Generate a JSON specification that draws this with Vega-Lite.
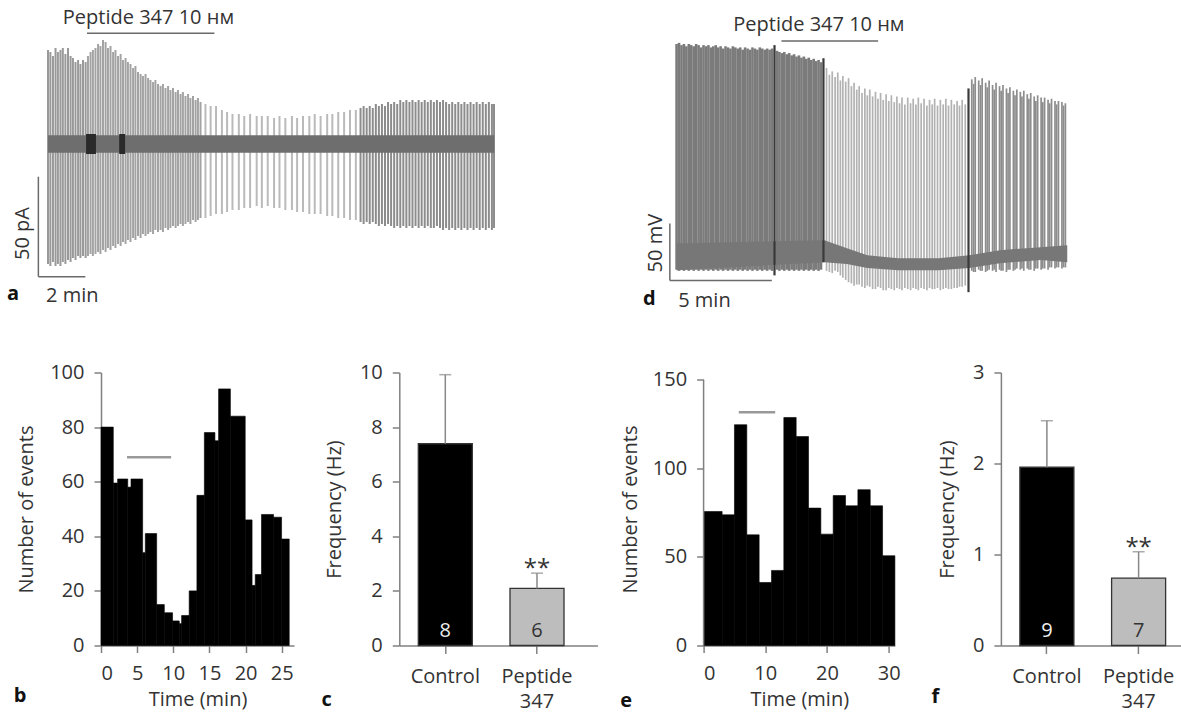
{
"$schema": "https://vega.github.io/schema/vega-lite/v6.json",
"background": "white",
"padding": {"left": 6, "top": 8, "right": 0, "bottom": 0},
"spacing": 46.5,
"columns": 1,
"align": "none",
"config": {
 "font": "Open Sans",
 "view": {"stroke": null},
 "axis": {"domainColor": "#808080", "domainWidth": 1.5, "tickColor": "#808080", "tickWidth": 1.5, "tickSize": 7, "labelFontSize": 20, "labelColor": "#333", "labelPadding": 10, "labelOverlap": false, "titleFontSize": 20, "titleFontWeight": "normal", "titleColor": "#333", "grid": false, "labelFont": "Open Sans", "titleFont": "Open Sans"},
 "title": {"fontSize": 20, "fontWeight": "bold", "color": "#111", "font": "Open Sans"}
},
"concat": [
{
 "hconcat": [
 {
  "width": 393.5, "height": 244,
  "layer": [
   {
    "data": {"values": [
{"t":0,"hi":47,"lo":-60,"ph":"baseline"},{"t":0.1,"hi":46,"lo":-61,"ph":"baseline"},{"t":0.21,"hi":44,"lo":-59,"ph":"baseline"},{"t":0.32,"hi":48,"lo":-61,"ph":"baseline"},{"t":0.42,"hi":46,"lo":-60,"ph":"baseline"},{"t":0.53,"hi":47,"lo":-61,"ph":"baseline"},{"t":0.63,"hi":48,"lo":-59,"ph":"baseline"},{"t":0.74,"hi":45,"lo":-60,"ph":"baseline"},{"t":0.85,"hi":48,"lo":-58,"ph":"baseline"},{"t":0.96,"hi":44,"lo":-59,"ph":"baseline"},{"t":1.06,"hi":43,"lo":-57,"ph":"baseline"},{"t":1.17,"hi":41,"lo":-58,"ph":"baseline"},{"t":1.28,"hi":42,"lo":-56,"ph":"baseline"},{"t":1.38,"hi":40,"lo":-57,"ph":"baseline"},{"t":1.49,"hi":42,"lo":-56,"ph":"baseline"},{"t":1.6,"hi":41,"lo":-57,"ph":"baseline"},
{"t":1.7,"hi":44,"lo":-56,"ph":"drug"},{"t":1.81,"hi":46,"lo":-55,"ph":"drug"},{"t":1.91,"hi":47,"lo":-56,"ph":"drug"},{"t":2.02,"hi":48,"lo":-55,"ph":"drug"},{"t":2.13,"hi":50,"lo":-54,"ph":"drug"},{"t":2.23,"hi":49,"lo":-55,"ph":"drug"},{"t":2.34,"hi":52,"lo":-53,"ph":"drug"},{"t":2.45,"hi":51,"lo":-54,"ph":"drug"},{"t":2.55,"hi":48,"lo":-52,"ph":"drug"},{"t":2.66,"hi":49,"lo":-53,"ph":"drug"},{"t":2.77,"hi":46,"lo":-51,"ph":"drug"},{"t":2.87,"hi":47,"lo":-52,"ph":"drug"},{"t":2.98,"hi":44,"lo":-50,"ph":"drug"},{"t":3.09,"hi":45,"lo":-51,"ph":"drug"},{"t":3.19,"hi":42,"lo":-49,"ph":"drug"},{"t":3.3,"hi":43,"lo":-50,"ph":"drug"},{"t":3.4,"hi":41,"lo":-48,"ph":"drug"},{"t":3.51,"hi":40,"lo":-49,"ph":"drug"},{"t":3.62,"hi":38,"lo":-47,"ph":"drug"},{"t":3.72,"hi":39,"lo":-48,"ph":"drug"},{"t":3.83,"hi":36,"lo":-46,"ph":"drug"},{"t":3.94,"hi":35,"lo":-47,"ph":"drug"},{"t":4.04,"hi":34,"lo":-45,"ph":"drug"},{"t":4.15,"hi":35,"lo":-46,"ph":"drug"},{"t":4.26,"hi":33,"lo":-45,"ph":"drug"},{"t":4.36,"hi":32,"lo":-44,"ph":"drug"},{"t":4.47,"hi":31,"lo":-45,"ph":"drug"},{"t":4.57,"hi":32,"lo":-43,"ph":"drug"},{"t":4.68,"hi":30,"lo":-44,"ph":"drug"},{"t":4.79,"hi":29,"lo":-43,"ph":"drug"},{"t":4.89,"hi":30,"lo":-44,"ph":"drug"},{"t":5,"hi":28,"lo":-42,"ph":"drug"},{"t":5.11,"hi":29,"lo":-43,"ph":"drug"},{"t":5.21,"hi":27,"lo":-42,"ph":"drug"},{"t":5.32,"hi":28,"lo":-41,"ph":"drug"},{"t":5.43,"hi":26,"lo":-42,"ph":"drug"},{"t":5.53,"hi":27,"lo":-41,"ph":"drug"},{"t":5.64,"hi":25,"lo":-40,"ph":"drug"},{"t":5.74,"hi":26,"lo":-41,"ph":"drug"},{"t":5.85,"hi":24,"lo":-40,"ph":"drug"},{"t":5.96,"hi":25,"lo":-39,"ph":"drug"},{"t":6.06,"hi":23,"lo":-40,"ph":"drug"},{"t":6.17,"hi":24,"lo":-38,"ph":"drug"},{"t":6.28,"hi":22,"lo":-39,"ph":"drug"},{"t":6.38,"hi":23,"lo":-38,"ph":"drug"},{"t":6.49,"hi":21,"lo":-37,"ph":"drug"},
{"t":6.7,"hi":20,"lo":-37,"ph":"wash"},{"t":6.92,"hi":19,"lo":-36,"ph":"wash"},{"t":7.15,"hi":19,"lo":-35,"ph":"wash"},{"t":7.4,"hi":17,"lo":-35,"ph":"wash"},{"t":7.62,"hi":16,"lo":-34,"ph":"wash"},{"t":7.85,"hi":15,"lo":-33,"ph":"wash"},{"t":8.12,"hi":15,"lo":-33,"ph":"wash"},{"t":8.35,"hi":14,"lo":-32,"ph":"wash"},{"t":8.6,"hi":15,"lo":-32,"ph":"wash"},{"t":8.88,"hi":14,"lo":-31,"ph":"wash"},{"t":9.1,"hi":14,"lo":-32,"ph":"wash"},{"t":9.35,"hi":14,"lo":-31,"ph":"wash"},{"t":9.62,"hi":13,"lo":-32,"ph":"wash"},{"t":9.85,"hi":14,"lo":-32,"ph":"wash"},{"t":10.1,"hi":13,"lo":-33,"ph":"wash"},{"t":10.38,"hi":14,"lo":-33,"ph":"wash"},{"t":10.6,"hi":13,"lo":-34,"ph":"wash"},{"t":10.85,"hi":14,"lo":-34,"ph":"wash"},{"t":11.12,"hi":14,"lo":-35,"ph":"wash"},{"t":11.35,"hi":15,"lo":-35,"ph":"wash"},{"t":11.6,"hi":14,"lo":-35,"ph":"wash"},{"t":11.88,"hi":15,"lo":-36,"ph":"wash"},{"t":12.1,"hi":15,"lo":-36,"ph":"wash"},{"t":12.35,"hi":16,"lo":-37,"ph":"wash"},{"t":12.6,"hi":16,"lo":-37,"ph":"wash"},{"t":12.85,"hi":17,"lo":-38,"ph":"wash"},{"t":13.1,"hi":17,"lo":-38,"ph":"wash"},
{"t":13.3,"hi":18,"lo":-39,"ph":"recovery"},{"t":13.43,"hi":19,"lo":-40,"ph":"recovery"},{"t":13.56,"hi":18,"lo":-39,"ph":"recovery"},{"t":13.69,"hi":19,"lo":-40,"ph":"recovery"},{"t":13.82,"hi":18,"lo":-39,"ph":"recovery"},{"t":13.95,"hi":20,"lo":-40,"ph":"recovery"},{"t":14.08,"hi":19,"lo":-41,"ph":"recovery"},{"t":14.21,"hi":20,"lo":-40,"ph":"recovery"},{"t":14.34,"hi":19,"lo":-41,"ph":"recovery"},{"t":14.47,"hi":21,"lo":-40,"ph":"recovery"},{"t":14.6,"hi":20,"lo":-41,"ph":"recovery"},{"t":14.73,"hi":21,"lo":-42,"ph":"recovery"},{"t":14.86,"hi":20,"lo":-41,"ph":"recovery"},{"t":14.99,"hi":22,"lo":-42,"ph":"recovery"},{"t":15.12,"hi":21,"lo":-41,"ph":"recovery"},{"t":15.25,"hi":22,"lo":-42,"ph":"recovery"},{"t":15.38,"hi":21,"lo":-41,"ph":"recovery"},{"t":15.51,"hi":22,"lo":-42,"ph":"recovery"},{"t":15.64,"hi":21,"lo":-41,"ph":"recovery"},{"t":15.77,"hi":22,"lo":-42,"ph":"recovery"},{"t":15.9,"hi":21,"lo":-41,"ph":"recovery"},{"t":16.03,"hi":22,"lo":-42,"ph":"recovery"},{"t":16.16,"hi":21,"lo":-41,"ph":"recovery"},{"t":16.29,"hi":22,"lo":-42,"ph":"recovery"},{"t":16.42,"hi":21,"lo":-42,"ph":"recovery"},{"t":16.55,"hi":22,"lo":-41,"ph":"recovery"},{"t":16.68,"hi":21,"lo":-42,"ph":"recovery"},{"t":16.81,"hi":22,"lo":-43,"ph":"recovery"},{"t":16.94,"hi":21,"lo":-42,"ph":"recovery"},{"t":17.07,"hi":20,"lo":-43,"ph":"recovery"},{"t":17.2,"hi":21,"lo":-42,"ph":"recovery"},{"t":17.33,"hi":20,"lo":-43,"ph":"recovery"},{"t":17.46,"hi":21,"lo":-42,"ph":"recovery"},{"t":17.59,"hi":20,"lo":-43,"ph":"recovery"},{"t":17.72,"hi":21,"lo":-42,"ph":"recovery"},{"t":17.85,"hi":20,"lo":-43,"ph":"recovery"},{"t":17.98,"hi":21,"lo":-42,"ph":"recovery"},{"t":18.11,"hi":20,"lo":-43,"ph":"recovery"},{"t":18.24,"hi":21,"lo":-42,"ph":"recovery"},{"t":18.37,"hi":20,"lo":-43,"ph":"recovery"},{"t":18.5,"hi":21,"lo":-42,"ph":"recovery"},{"t":18.63,"hi":20,"lo":-43,"ph":"recovery"},{"t":18.76,"hi":21,"lo":-42,"ph":"recovery"},{"t":18.89,"hi":20,"lo":-43,"ph":"recovery"},{"t":18.98,"hi":20,"lo":-42,"ph":"recovery"}
    ]},
    "mark": {"type": "rule", "strokeWidth": 2},
    "encoding": {
     "x": {"field": "t", "type": "quantitative", "scale": {"domain": [2.255, 19], "nice": false, "zero": false}, "axis": null},
     "y": {"field": "hi", "type": "quantitative", "scale": {"domain": [-68, 54], "nice": false, "zero": false}, "axis": null},
     "y2": {"field": "lo"},
     "color": {"condition": [{"test": "datum.ph == 'baseline'", "value": "#999999"}, {"test": "datum.ph == 'drug'", "value": "#a3a3a3"}, {"test": "datum.ph == 'wash'", "value": "#bababa"}], "value": "#8c8c8c"}
    }
   },
   {
    "data": {"values": [{"t0": 0, "t1": 18.99, "lo": -4.4, "hi": 4.4, "kind": "noise"}, {"t0": 1.62, "t1": 2.04, "lo": -5, "hi": 5, "kind": "artefact"}, {"t0": 3.03, "t1": 3.28, "lo": -5, "hi": 5, "kind": "artefact"}]},
    "mark": {"type": "rect"},
    "encoding": {
     "x": {"field": "t0", "type": "quantitative"}, "x2": {"field": "t1"},
     "y": {"field": "lo", "type": "quantitative"}, "y2": {"field": "hi"},
     "color": {"condition": {"test": "datum.kind == 'noise'", "value": "#6e6e6e"}, "value": "#2a2a2a"}
    }
   },
   {
    "data": {"values": [{"x": -0.41, "y": -16.35, "x2": -0.41, "y2": -66.35}, {"x": -0.41, "y": -66.35, "x2": 1.59, "y2": -66.35}, {"x": 1.66, "y": 55.35, "x2": 7.08, "y2": 55.35}]},
    "mark": {"type": "rule", "color": "#6a6a6a", "strokeWidth": 1.5},
    "encoding": {"x": {"field": "x", "type": "quantitative"}, "x2": {"field": "x2"}, "y": {"field": "y", "type": "quantitative"}, "y2": {"field": "y2"}}
   },
   {
    "data": {"values": [{"x": 0.63, "y": 63, "label": "Peptide 347 10 нм"}, {"x": -0.085, "y": -76, "label": "2 min"}]},
    "mark": {"type": "text", "align": "left", "baseline": "middle", "fontSize": 20, "color": "#333"},
    "encoding": {"x": {"field": "x", "type": "quantitative"}, "y": {"field": "y", "type": "quantitative"}, "text": {"field": "label"}}
   },
   {
    "data": {"values": [{"x": -1.085, "y": -44.75, "label": "50 pA"}]},
    "mark": {"type": "text", "align": "center", "baseline": "middle", "angle": 270, "fontSize": 20, "color": "#333"},
    "encoding": {"x": {"field": "x", "type": "quantitative"}, "y": {"field": "y", "type": "quantitative"}, "text": {"field": "label"}}
   },
   {
    "data": {"values": [{"x": -1.49, "y": -75, "label": "a"}]},
    "mark": {"type": "text", "align": "center", "baseline": "middle", "fontSize": 20, "fontWeight": "bold", "color": "#111"},
    "encoding": {"x": {"field": "x", "type": "quantitative"}, "y": {"field": "y", "type": "quantitative"}, "text": {"field": "label"}}
   }
  ]
 },
 {
  "width": 401.88, "height": 257.64,
  "layer": [
   {
    "data": {"values": [
{"t":0.15,"hi":187,"lo":-11,"ph":"baseline"},{"t":0.27,"hi":188,"lo":-12,"ph":"baseline"},{"t":0.39,"hi":186,"lo":-11,"ph":"baseline"},{"t":0.51,"hi":187,"lo":-12,"ph":"baseline"},{"t":0.63,"hi":185,"lo":-11,"ph":"baseline"},{"t":0.75,"hi":187,"lo":-12,"ph":"baseline"},{"t":0.87,"hi":186,"lo":-11,"ph":"baseline"},{"t":0.99,"hi":185,"lo":-12,"ph":"baseline"},{"t":1.11,"hi":187,"lo":-11,"ph":"baseline"},{"t":1.23,"hi":186,"lo":-12,"ph":"baseline"},{"t":1.35,"hi":184,"lo":-11,"ph":"baseline"},{"t":1.47,"hi":186,"lo":-12,"ph":"baseline"},{"t":1.59,"hi":185,"lo":-11,"ph":"baseline"},{"t":1.71,"hi":186,"lo":-12,"ph":"baseline"},{"t":1.83,"hi":184,"lo":-11,"ph":"baseline"},{"t":1.95,"hi":185,"lo":-12,"ph":"baseline"},{"t":2.07,"hi":186,"lo":-11,"ph":"baseline"},{"t":2.19,"hi":184,"lo":-12,"ph":"baseline"},{"t":2.31,"hi":185,"lo":-11,"ph":"baseline"},{"t":2.43,"hi":183,"lo":-12,"ph":"baseline"},{"t":2.55,"hi":185,"lo":-11,"ph":"baseline"},{"t":2.67,"hi":184,"lo":-12,"ph":"baseline"},{"t":2.79,"hi":183,"lo":-11,"ph":"baseline"},{"t":2.91,"hi":185,"lo":-12,"ph":"baseline"},{"t":3.03,"hi":184,"lo":-11,"ph":"baseline"},{"t":3.15,"hi":183,"lo":-12,"ph":"baseline"},{"t":3.27,"hi":184,"lo":-11,"ph":"baseline"},{"t":3.39,"hi":182,"lo":-12,"ph":"baseline"},{"t":3.51,"hi":184,"lo":-11,"ph":"baseline"},{"t":3.63,"hi":183,"lo":-12,"ph":"baseline"},{"t":3.75,"hi":182,"lo":-11,"ph":"baseline"},{"t":3.87,"hi":184,"lo":-12,"ph":"baseline"},{"t":3.99,"hi":183,"lo":-11,"ph":"baseline"},{"t":4.11,"hi":182,"lo":-12,"ph":"baseline"},{"t":4.23,"hi":184,"lo":-11,"ph":"baseline"},{"t":4.35,"hi":183,"lo":-12,"ph":"baseline"},{"t":4.47,"hi":182,"lo":-11,"ph":"baseline"},{"t":4.59,"hi":183,"lo":-12,"ph":"baseline"},{"t":4.71,"hi":182,"lo":-11,"ph":"baseline"},{"t":4.83,"hi":183,"lo":-12,"ph":"baseline"},{"t":5.07,"hi":181,"lo":-11,"ph":"baseline"},{"t":5.19,"hi":180,"lo":-12,"ph":"baseline"},{"t":5.31,"hi":179,"lo":-11,"ph":"baseline"},{"t":5.43,"hi":180,"lo":-12,"ph":"baseline"},{"t":5.55,"hi":178,"lo":-11,"ph":"baseline"},{"t":5.67,"hi":179,"lo":-12,"ph":"baseline"},{"t":5.79,"hi":177,"lo":-11,"ph":"baseline"},{"t":5.91,"hi":178,"lo":-12,"ph":"baseline"},{"t":6.03,"hi":176,"lo":-11,"ph":"baseline"},{"t":6.15,"hi":177,"lo":-12,"ph":"baseline"},{"t":6.27,"hi":175,"lo":-11,"ph":"baseline"},{"t":6.39,"hi":176,"lo":-12,"ph":"baseline"},{"t":6.51,"hi":174,"lo":-11,"ph":"baseline"},{"t":6.63,"hi":175,"lo":-12,"ph":"baseline"},{"t":6.75,"hi":173,"lo":-11,"ph":"baseline"},{"t":6.87,"hi":174,"lo":-12,"ph":"baseline"},{"t":6.99,"hi":172,"lo":-11,"ph":"baseline"},{"t":7.11,"hi":173,"lo":-12,"ph":"baseline"},{"t":7.23,"hi":171,"lo":-11,"ph":"baseline"},
{"t":7.5,"hi":166,"lo":-12,"ph":"drug"},{"t":7.64,"hi":160,"lo":-13,"ph":"drug"},{"t":7.78,"hi":163,"lo":-14,"ph":"drug"},{"t":7.92,"hi":158,"lo":-12,"ph":"drug"},{"t":8.05,"hi":162,"lo":-13,"ph":"drug"},{"t":8.18,"hi":155,"lo":-16,"ph":"drug"},{"t":8.3,"hi":159,"lo":-18,"ph":"drug"},{"t":8.44,"hi":154,"lo":-20,"ph":"drug"},{"t":8.58,"hi":157,"lo":-22,"ph":"drug"},{"t":8.72,"hi":150,"lo":-23,"ph":"drug"},{"t":8.85,"hi":153,"lo":-25,"ph":"drug"},{"t":8.98,"hi":147,"lo":-24,"ph":"drug"},{"t":9.1,"hi":150,"lo":-24,"ph":"drug"},{"t":9.24,"hi":144,"lo":-26,"ph":"drug"},{"t":9.38,"hi":148,"lo":-27,"ph":"drug"},{"t":9.5,"hi":142,"lo":-25,"ph":"drug"},{"t":9.62,"hi":147,"lo":-26,"ph":"drug"},{"t":9.76,"hi":141,"lo":-28,"ph":"drug"},{"t":9.9,"hi":145,"lo":-28,"ph":"drug"},{"t":10.02,"hi":139,"lo":-26,"ph":"drug"},{"t":10.15,"hi":144,"lo":-27,"ph":"drug"},{"t":10.28,"hi":138,"lo":-29,"ph":"drug"},{"t":10.42,"hi":143,"lo":-29,"ph":"drug"},{"t":10.55,"hi":137,"lo":-27,"ph":"drug"},{"t":10.68,"hi":142,"lo":-28,"ph":"drug"},{"t":10.82,"hi":136,"lo":-29,"ph":"drug"},{"t":10.95,"hi":141,"lo":-27,"ph":"drug"},{"t":11.08,"hi":135,"lo":-28,"ph":"drug"},{"t":11.2,"hi":140,"lo":-29,"ph":"drug"},{"t":11.34,"hi":134,"lo":-27,"ph":"drug"},{"t":11.48,"hi":140,"lo":-28,"ph":"drug"},{"t":11.62,"hi":135,"lo":-29,"ph":"drug"},{"t":11.75,"hi":139,"lo":-27,"ph":"drug"},{"t":11.88,"hi":134,"lo":-28,"ph":"drug"},{"t":12,"hi":140,"lo":-29,"ph":"drug"},{"t":12.14,"hi":135,"lo":-27,"ph":"drug"},{"t":12.28,"hi":139,"lo":-28,"ph":"drug"},{"t":12.42,"hi":133,"lo":-29,"ph":"drug"},{"t":12.55,"hi":138,"lo":-27,"ph":"drug"},{"t":12.68,"hi":134,"lo":-28,"ph":"drug"},{"t":12.8,"hi":139,"lo":-28,"ph":"drug"},{"t":12.94,"hi":133,"lo":-27,"ph":"drug"},{"t":13.08,"hi":138,"lo":-29,"ph":"drug"},{"t":13.22,"hi":134,"lo":-28,"ph":"drug"},{"t":13.35,"hi":139,"lo":-27,"ph":"drug"},{"t":13.48,"hi":133,"lo":-28,"ph":"drug"},{"t":13.62,"hi":138,"lo":-28,"ph":"drug"},{"t":13.76,"hi":134,"lo":-27,"ph":"drug"},{"t":13.9,"hi":137,"lo":-27,"ph":"drug"},{"t":14.02,"hi":133,"lo":-26,"ph":"drug"},{"t":14.15,"hi":138,"lo":-26,"ph":"drug"},{"t":14.3,"hi":134,"lo":-25,"ph":"drug"},
{"t":14.62,"hi":156,"lo":-12,"ph":"wash"},{"t":14.71,"hi":152,"lo":-13,"ph":"wash"},{"t":14.79,"hi":158,"lo":-13,"ph":"wash"},{"t":14.96,"hi":155,"lo":-11,"ph":"wash"},{"t":15.05,"hi":151,"lo":-12,"ph":"wash"},{"t":15.13,"hi":157,"lo":-12,"ph":"wash"},{"t":15.3,"hi":153,"lo":-13,"ph":"wash"},{"t":15.38,"hi":149,"lo":-12,"ph":"wash"},{"t":15.47,"hi":155,"lo":-11,"ph":"wash"},{"t":15.64,"hi":151,"lo":-12,"ph":"wash"},{"t":15.72,"hi":147,"lo":-11,"ph":"wash"},{"t":15.81,"hi":153,"lo":-13,"ph":"wash"},{"t":15.98,"hi":150,"lo":-11,"ph":"wash"},{"t":16.06,"hi":146,"lo":-12,"ph":"wash"},{"t":16.15,"hi":151,"lo":-12,"ph":"wash"},{"t":16.32,"hi":148,"lo":-13,"ph":"wash"},{"t":16.4,"hi":144,"lo":-11,"ph":"wash"},{"t":16.49,"hi":149,"lo":-11,"ph":"wash"},{"t":16.66,"hi":146,"lo":-12,"ph":"wash"},{"t":16.74,"hi":142,"lo":-11,"ph":"wash"},{"t":16.83,"hi":147,"lo":-10,"ph":"wash"},{"t":17,"hi":145,"lo":-11,"ph":"wash"},{"t":17.08,"hi":141,"lo":-10,"ph":"wash"},{"t":17.17,"hi":146,"lo":-12,"ph":"wash"},{"t":17.34,"hi":143,"lo":-10,"ph":"wash"},{"t":17.42,"hi":139,"lo":-11,"ph":"wash"},{"t":17.51,"hi":144,"lo":-11,"ph":"wash"},{"t":17.68,"hi":141,"lo":-12,"ph":"wash"},{"t":17.76,"hi":137,"lo":-10,"ph":"wash"},{"t":17.85,"hi":142,"lo":-10,"ph":"wash"},{"t":18.02,"hi":140,"lo":-11,"ph":"wash"},{"t":18.1,"hi":136,"lo":-10,"ph":"wash"},{"t":18.19,"hi":140,"lo":-10,"ph":"wash"},{"t":18.36,"hi":138,"lo":-11,"ph":"wash"},{"t":18.44,"hi":135,"lo":-9,"ph":"wash"},{"t":18.53,"hi":139,"lo":-9,"ph":"wash"},{"t":18.7,"hi":137,"lo":-10,"ph":"wash"},{"t":18.78,"hi":134,"lo":-9,"ph":"wash"},{"t":18.87,"hi":137,"lo":-9,"ph":"wash"},{"t":19.04,"hi":136,"lo":-10,"ph":"wash"},{"t":19.12,"hi":133,"lo":-9,"ph":"wash"},{"t":19.21,"hi":135,"lo":-9,"ph":"wash"}
    ]},
    "mark": {"type": "rule"},
    "encoding": {
     "x": {"field": "t", "type": "quantitative", "scale": {"domain": [-0.3, 19.4], "nice": false, "zero": false}, "axis": null},
     "y": {"field": "hi", "type": "quantitative", "scale": {"domain": [-32, 194], "nice": false, "zero": false}, "axis": null},
     "y2": {"field": "lo"},
     "color": {"condition": [{"test": "datum.ph == 'baseline'", "value": "#7b7b7b"}, {"test": "datum.ph == 'drug'", "value": "#b2b2b2"}], "value": "#8d8d8d"},
     "strokeWidth": {"condition": {"test": "datum.ph == 'baseline'", "value": 2.6}, "value": 1.7}
    }
   },
   {
    "data": {"values": [{"t":0.15,"hi":12,"lo":-11.4},{"t":7.4,"hi":14.9,"lo":-4.4},{"t":8.5,"hi":7.9,"lo":-6.1},{"t":9.5,"hi":1.75,"lo":-9.6},{"t":11,"hi":-0.9,"lo":-11.4},{"t":13,"hi":-0.9,"lo":-11.4},{"t":14.5,"hi":1.75,"lo":-9.6},{"t":16,"hi":6.1,"lo":-5.3},{"t":18,"hi":8.8,"lo":-2.6},{"t":19.3,"hi":10.5,"lo":-4.4}]},
    "mark": {"type": "area", "color": "#777777"},
    "encoding": {"x": {"field": "t", "type": "quantitative"}, "y": {"field": "hi", "type": "quantitative"}, "y2": {"field": "lo"}}
   },
   {
    "data": {"values": [{"t": 4.95, "hi": 186, "lo": -16}, {"t": 7.35, "hi": 174.5, "lo": -4.4}, {"t": 14.46, "hi": 148, "lo": -30.7}]},
    "mark": {"type": "rule", "color": "#3a3a3a", "strokeWidth": 2.2},
    "encoding": {"x": {"field": "t", "type": "quantitative"}, "y": {"field": "hi", "type": "quantitative"}, "y2": {"field": "lo"}}
   },
   {
    "data": {"values": [{"x": -0.18, "y": 29.6, "x2": -0.18, "y2": -20.4}, {"x": -0.18, "y": -20.4, "x2": 4.82, "y2": -20.4}, {"x": 5.29, "y": 189.7, "x2": 10.03, "y2": 189.7}]},
    "mark": {"type": "rule", "color": "#6a6a6a", "strokeWidth": 1.5},
    "encoding": {"x": {"field": "x", "type": "quantitative"}, "x2": {"field": "x2"}, "y": {"field": "y", "type": "quantitative"}, "y2": {"field": "y2"}}
   },
   {
    "data": {"values": [{"x": 2.93, "y": 203.5, "label": "Peptide 347 10 нм"}, {"x": 0.23, "y": -38.6, "label": "5 min"}]},
    "mark": {"type": "text", "align": "left", "baseline": "middle", "fontSize": 20, "color": "#333"},
    "encoding": {"x": {"field": "x", "type": "quantitative"}, "y": {"field": "y", "type": "quantitative"}, "text": {"field": "label"}}
   },
   {
    "data": {"values": [{"x": -0.88, "y": 12.3, "label": "50 mV"}]},
    "mark": {"type": "text", "align": "center", "baseline": "middle", "angle": 270, "fontSize": 20, "color": "#333"},
    "encoding": {"x": {"field": "x", "type": "quantitative"}, "y": {"field": "y", "type": "quantitative"}, "text": {"field": "label"}}
   },
   {
    "data": {"values": [{"x": -1.18, "y": -36.8, "label": "d"}]},
    "mark": {"type": "text", "align": "center", "baseline": "middle", "fontSize": 20, "fontWeight": "bold", "color": "#111"},
    "encoding": {"x": {"field": "x", "type": "quantitative"}, "y": {"field": "y", "type": "quantitative"}, "text": {"field": "label"}}
   }
  ]
 }
 ],
 "spacing": 172.4,
 "bounds": "flush"
},
{
 "hconcat": [
 {
  "width": 193, "height": 273,
  "title": {"text": "b", "orient": "bottom", "anchor": "start", "frame": "bounds", "offset": 0, "dx": -3, "dy": -23.5},
  "encoding": {
   "x": {"field": "t0", "type": "quantitative", "scale": {"domain": [0, 26.7], "nice": false}, "axis": {"values": [0, 5, 10, 15, 20, 25], "labelOverlap": false, "title": "Time (min)", "titlePadding": 6, "labelPadding": 11}},
   "x2": {"field": "t1"},
   "y": {"field": "n", "type": "quantitative", "scale": {"domain": [0, 100], "nice": false}, "axis": {"values": [0, 20, 40, 60, 80, 100], "title": "Number of events", "titlePadding": 13}}
  },
  "layer": [
   {
    "data": {"values": [
{"t0":0,"t1":1.7,"n":80},{"t0":1.7,"t1":2.3,"n":59.5},{"t0":2.3,"t1":3.7,"n":61},{"t0":3.7,"t1":4.15,"n":58},{"t0":4.15,"t1":5.76,"n":61},{"t0":5.76,"t1":6.13,"n":34},{"t0":6.13,"t1":7.7,"n":41},{"t0":7.7,"t1":8.76,"n":15},{"t0":8.76,"t1":9.9,"n":12},{"t0":9.9,"t1":10.83,"n":9},{"t0":10.83,"t1":11.15,"n":8},{"t0":11.15,"t1":12.2,"n":11},{"t0":12.2,"t1":13.27,"n":20},{"t0":13.27,"t1":14.3,"n":55},{"t0":14.3,"t1":15.76,"n":78},{"t0":15.76,"t1":16.27,"n":75},{"t0":16.27,"t1":17.9,"n":94},{"t0":17.9,"t1":19.95,"n":84},{"t0":19.95,"t1":20.9,"n":46},{"t0":20.9,"t1":21.34,"n":22},{"t0":21.34,"t1":22.2,"n":26},{"t0":22.2,"t1":23.87,"n":48},{"t0":23.87,"t1":24.98,"n":47},{"t0":24.98,"t1":26.04,"n":39}
    ]},
    "mark": {"type": "rect", "color": "#000", "stroke": "#000", "strokeWidth": 0.6},
    "encoding": {"y2": {"datum": 0}}
   },
   {
    "data": {"values": [{"t0": 3.6, "t1": 9.7, "n": 69}]},
    "mark": {"type": "rule", "color": "#999", "strokeWidth": 2.5}
   }
  ]
 },
 {
  "width": 198.1, "height": 273,
  "title": {"text": "c", "orient": "bottom", "anchor": "start", "frame": "bounds", "offset": 0, "dx": -3, "dy": -22},
  "data": {"values": [{"cond": "Control", "mean": 7.39, "hi": 9.92, "n": "8", "sig": ""}, {"cond": "Peptide 347", "mean": 2.09, "hi": 2.65, "n": "6", "sig": "**"}]},
  "encoding": {"x": {"field": "cond", "type": "nominal", "sort": null, "scale": {"paddingInner": 0.411, "paddingOuter": 0.2857, "align": 0.3626}, "axis": {"title": null, "labelAngle": 0, "tickSize": 8, "labelPadding": 13, "labelLineHeight": 25, "labelExpr": "datum.label == 'Peptide 347' ? ['Peptide', '347'] : datum.label"}}},
  "layer": [
   {
    "mark": {"type": "bar", "stroke": "#333", "strokeWidth": 1.3},
    "encoding": {
     "y": {"field": "mean", "type": "quantitative", "scale": {"domain": [0, 10], "nice": false}, "axis": {"values": [0, 2, 4, 6, 8, 10], "format": "d", "title": "Frequency (Hz)", "titlePadding": 15}},
     "fill": {"condition": {"test": "datum.cond == 'Control'", "value": "#000"}, "value": "#bdbdbd"}
    }
   },
   {"mark": {"type": "rule", "color": "#888", "strokeWidth": 1.5}, "encoding": {"y": {"field": "mean", "type": "quantitative"}, "y2": {"field": "hi"}}},
   {"mark": {"type": "tick", "color": "#888", "thickness": 1.5, "size": 12}, "encoding": {"y": {"field": "hi", "type": "quantitative"}}},
   {"mark": {"type": "text", "fontSize": 24, "baseline": "middle", "dy": -4, "color": "#333"}, "encoding": {"y": {"field": "hi", "type": "quantitative"}, "text": {"field": "sig"}}},
   {"mark": {"type": "text", "fontSize": 20, "baseline": "middle", "dy": -15}, "encoding": {"y": {"datum": 0, "type": "quantitative"}, "text": {"field": "n"}, "color": {"condition": {"test": "datum.cond == 'Control'", "value": "#eeeeee"}, "value": "#333"}}}
  ]
 },
 {
  "width": 191.3, "height": 273,
  "title": {"text": "e", "orient": "bottom", "anchor": "start", "frame": "bounds", "offset": 0, "dx": 0, "dy": -18.5},
  "encoding": {
   "x": {"field": "t0", "type": "quantitative", "scale": {"domain": [0, 31], "nice": false}, "axis": {"values": [0, 10, 20, 30], "labelOverlap": false, "title": "Time (min)", "titlePadding": 6, "labelPadding": 11}},
   "x2": {"field": "t1"},
   "y": {"field": "n", "type": "quantitative", "scale": {"domain": [0, 154.2], "nice": false}, "axis": {"values": [0, 50, 100, 150], "title": "Number of events", "titlePadding": 12, "domain": false}}
  },
  "layer": [
   {
    "data": {"values": [
{"t0":0,"t1":3,"n":75.7},{"t0":3,"t1":5,"n":73.8},{"t0":5,"t1":7,"n":124.7},{"t0":7,"t1":9,"n":62.5},{"t0":9,"t1":11,"n":35.6},{"t0":11,"t1":13,"n":42.4},{"t0":13,"t1":15,"n":128.8},{"t0":15,"t1":17,"n":118},{"t0":17,"t1":19,"n":77.6},{"t0":19,"t1":21,"n":62.9},{"t0":21,"t1":23,"n":84.7},{"t0":23,"t1":25,"n":78.9},{"t0":25,"t1":27,"n":88},{"t0":27,"t1":29,"n":78.9},{"t0":29,"t1":31,"n":50.7}
    ]},
    "mark": {"type": "rect", "color": "#000", "stroke": "#000", "strokeWidth": 0.6},
    "encoding": {"y2": {"datum": 0}}
   },
   {
    "data": {"values": [{"t0": 5.7, "t1": 11.6, "n": 131.8}]},
    "mark": {"type": "rule", "color": "#999", "strokeWidth": 2.5}
   },
   {
    "data": {"values": [{"t0": 0, "n": 0, "top": 150}]},
    "mark": {"type": "rule", "color": "#808080", "strokeWidth": 1.5},
    "encoding": {"x2": null, "y2": {"field": "top"}}
   }
  ]
 },
 {
  "width": 183.7, "height": 273,
  "title": {"text": "f", "orient": "bottom", "anchor": "start", "frame": "bounds", "offset": 0, "dx": -6, "dy": -24.5},
  "data": {"values": [{"cond": "Control", "mean": 1.96, "hi": 2.47, "n": "9", "sig": ""}, {"cond": "Peptide 347", "mean": 0.74, "hi": 1.03, "n": "7", "sig": "**"}]},
  "encoding": {"x": {"field": "cond", "type": "nominal", "sort": null, "scale": {"paddingInner": 0.411, "paddingOuter": 0.207}, "axis": {"title": null, "labelAngle": 0, "tickSize": 8, "labelPadding": 13, "labelLineHeight": 25, "labelExpr": "datum.label == 'Peptide 347' ? ['Peptide', '347'] : datum.label"}}},
  "layer": [
   {
    "mark": {"type": "bar", "stroke": "#333", "strokeWidth": 1.3},
    "encoding": {
     "y": {"field": "mean", "type": "quantitative", "scale": {"domain": [0, 3], "nice": false}, "axis": {"values": [0, 1, 2, 3], "format": "d", "title": "Frequency (Hz)", "titlePadding": 15}},
     "fill": {"condition": {"test": "datum.cond == 'Control'", "value": "#000"}, "value": "#bdbdbd"}
    }
   },
   {"mark": {"type": "rule", "color": "#888", "strokeWidth": 1.5}, "encoding": {"y": {"field": "mean", "type": "quantitative"}, "y2": {"field": "hi"}}},
   {"mark": {"type": "tick", "color": "#888", "thickness": 1.5, "size": 12}, "encoding": {"y": {"field": "hi", "type": "quantitative"}}},
   {"mark": {"type": "text", "fontSize": 24, "baseline": "middle", "dy": -4, "color": "#333"}, "encoding": {"y": {"field": "hi", "type": "quantitative"}, "text": {"field": "sig"}}},
   {"mark": {"type": "text", "fontSize": 20, "baseline": "middle", "dy": -15}, "encoding": {"y": {"datum": 0, "type": "quantitative"}, "text": {"field": "n"}, "color": {"condition": {"test": "datum.cond == 'Control'", "value": "#eeeeee"}, "value": "#333"}}}
  ]
 }
 ],
 "spacing": 105.3,
 "bounds": "flush"
}
]
}
